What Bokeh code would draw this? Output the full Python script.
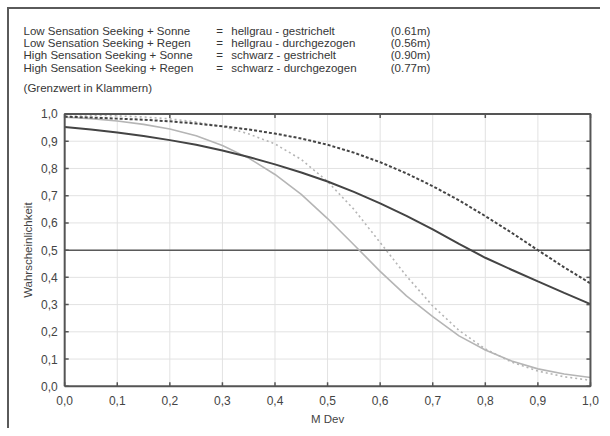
import math
from bokeh.plotting import figure
from bokeh.models import Range1d, ColumnDataSource
from bokeh.core.properties import value
from bokeh.embed import file_html
from bokeh.resources import INLINE

# ---------------- data ----------------
m_dev = [0.00, 0.05, 0.10, 0.15, 0.20, 0.25, 0.30, 0.35, 0.40, 0.45, 0.50,
         0.55, 0.60, 0.65, 0.70, 0.75, 0.80, 0.85, 0.90, 0.95, 1.00]

# Low Sensation Seeking + Sonne (hellgrau - gestrichelt)
low_sonne = [0.997, 0.996, 0.993, 0.989, 0.982, 0.971, 0.954, 0.927, 0.890, 0.833, 0.752,
             0.650, 0.528, 0.405, 0.295, 0.205, 0.137, 0.089, 0.056, 0.035, 0.022]
# Low Sensation Seeking + Regen (hellgrau - durchgezogen)
low_regen = [0.988, 0.983, 0.974, 0.962, 0.945, 0.920, 0.884, 0.838, 0.778, 0.705, 0.616,
             0.520, 0.422, 0.332, 0.256, 0.185, 0.133, 0.093, 0.064, 0.045, 0.032]
# High Sensation Seeking + Sonne (schwarz - gestrichelt)
high_sonne = [0.990, 0.987, 0.983, 0.979, 0.973, 0.965, 0.955, 0.943, 0.928, 0.910, 0.887,
              0.858, 0.823, 0.782, 0.735, 0.683, 0.625, 0.564, 0.500, 0.437, 0.378]
# High Sensation Seeking + Regen (schwarz - durchgezogen)
high_regen = [0.952, 0.943, 0.932, 0.919, 0.904, 0.887, 0.866, 0.842, 0.815, 0.785, 0.752,
              0.714, 0.672, 0.626, 0.576, 0.523, 0.472, 0.428, 0.385, 0.343, 0.302]

threshold = 0.5

groups = ["Low Sensation Seeking + Sonne", "Low Sensation Seeking + Regen",
          "High Sensation Seeking + Sonne", "High Sensation Seeking + Regen"]
line_desc = ["hellgrau - gestrichelt", "hellgrau - durchgezogen",
             "schwarz - gestrichelt", "schwarz - durchgezogen"]
limits = ["(0.61m)", "(0.56m)", "(0.90m)", "(0.77m)"]
note = "(Grenzwert in Klammern)"

x_title = "M Dev"
y_title = "Wahrscheinlichkeit"
x_min, x_max = 0.0, 1.0
y_min, y_max = 0.0, 1.0
x_ticks = [0.0, 0.1, 0.2, 0.3, 0.4, 0.5, 0.6, 0.7, 0.8, 0.9, 1.0]
y_ticks = [0.0, 0.1, 0.2, 0.3, 0.4, 0.5, 0.6, 0.7, 0.8, 0.9, 1.0]
top_ticks = [0.0, 0.2, 0.4, 0.6, 0.8, 1.0]

# ---------------- layout (page pixels) & styles ----------------
OFF = 9                           # canvas origin on the page (inside the outer border)
CW, CH = 591, 419                 # canvas size (kept well inside the window)
PX0, PX1 = 64, 588                # page x of x_min / x_max
PY0, PY1 = 384, 113               # page y of y_min / y_max
SX = (PX1 - PX0) / (x_max - x_min)
SY = (PY0 - PY1) / (y_max - y_min)


def dx(px):
    return x_min + (px - PX0) / SX


def dy(py):
    return y_min + (PY0 - py) / SY


FONT = "Liberation Sans"
DARK = "#444444"
LIGHT = "#b5b5b5"
AX = "#555555"
BORDER = "#5a5a5a"
TXT = "#363636"
LBL = "#444444"
GRID = "#e2e2e2"
TICK = 4

p = figure(width=CW, height=CH, output_backend="svg", toolbar_location=None,
           x_range=Range1d(dx(OFF), dx(OFF + CW)), y_range=Range1d(dy(OFF + CH), dy(OFF)),
           x_axis_location=None, y_axis_location=None,
           min_border=0, min_border_left=0, min_border_right=0,
           min_border_top=0, min_border_bottom=0,
           styles={"position": "absolute", "left": f"{OFF - 2}px", "top": f"{OFF - 2}px",
                   "border-top": f"2px solid {BORDER}", "border-left": f"2px solid {BORDER}",
                   "box-sizing": "content-box"})
p.grid.visible = False
p.outline_line_color = None
p.background_fill_color = "white"
p.border_fill_color = "white"

# grid
p.multi_line(xs=[[t, t] for t in x_ticks], ys=[[y_min, y_max] for _ in x_ticks],
             line_color=GRID, line_width=1)
p.multi_line(xs=[[x_min, x_max] for _ in y_ticks], ys=[[t, t] for t in y_ticks],
             line_color=GRID, line_width=1)

# threshold line
p.line([x_min, x_max], [threshold, threshold], line_color="#5a5a5a", line_width=1.5)

# curves
p.line(m_dev, low_regen, line_color=LIGHT, line_width=1.6)
p.line(m_dev, low_sonne, line_color=LIGHT, line_width=1.6, line_dash="2 3")
p.line(m_dev, high_regen, line_color=DARK, line_width=2)
p.line(m_dev, high_sonne, line_color=DARK, line_width=2, line_dash="3 2")

# frame
p.line([x_min, x_max, x_max, x_min, x_min], [y_min, y_min, y_max, y_max, y_min],
       line_color=AX, line_width=2)

# inward ticks
tx, ty = TICK / SX, TICK / SY
p.multi_line(xs=[[t, t] for t in x_ticks], ys=[[y_min, y_min + ty] for _ in x_ticks],
             line_color=AX, line_width=1.5)
p.multi_line(xs=[[t, t] for t in top_ticks], ys=[[y_max, y_max - ty] for _ in top_ticks],
             line_color=AX, line_width=1.5)
p.multi_line(xs=[[x_min, x_min + tx] for _ in y_ticks], ys=[[t, t] for t in y_ticks],
             line_color=AX, line_width=1.5)
p.multi_line(xs=[[x_max, x_max - tx] for _ in y_ticks], ys=[[t, t] for t in y_ticks],
             line_color=AX, line_width=1.5)


def fmt(t):
    return f"{t:.1f}".replace(".", ",")


# tick labels
p.text(x=x_ticks, y=[dy(PY0 + 14)] * len(x_ticks), text=[fmt(t) for t in x_ticks],
       text_font=value(FONT), text_font_size=value("12px"), text_color=LBL,
       text_align="center", text_baseline="middle")
p.text(x=[dx(PX0 - 7)] * len(y_ticks), y=y_ticks, text=[fmt(t) for t in y_ticks],
       text_font=value(FONT), text_font_size=value("12px"), text_color=LBL,
       text_align="right", text_baseline="middle")

# axis titles
p.text(x=[(x_min + x_max) / 2], y=[dy(PY0 + 33)], text=[x_title],
       text_font=value(FONT), text_font_size=value("11.5px"), text_color=LBL,
       text_align="center", text_baseline="middle")
p.text(x=[dx(27)], y=[(y_min + y_max) / 2], text=[y_title], angle=math.pi / 2,
       text_font=value(FONT), text_font_size=value("11.5px"), text_color=LBL,
       text_align="center", text_baseline="middle")

# header block
row_py = [30.0 + 12.3 * i for i in range(len(groups))]
col_px = [23, 215, 230, 389]
hx, hy, ht = [], [], []
for i in range(len(groups)):
    for cx, t in zip(col_px, (groups[i], "=", line_desc[i], limits[i])):
        hx.append(dx(cx))
        hy.append(dy(row_py[i]))
        ht.append(t)
hx.append(dx(col_px[0]))
hy.append(dy(87))
ht.append(note)
p.text(x="x", y="y", text="t", source=ColumnDataSource(dict(x=hx, y=hy, t=ht)),
       text_font=value(FONT), text_font_size=value("11.5px"), text_color=TXT,
       text_align="left", text_baseline="middle")

open("out.html", "w").write(file_html(p, INLINE))
